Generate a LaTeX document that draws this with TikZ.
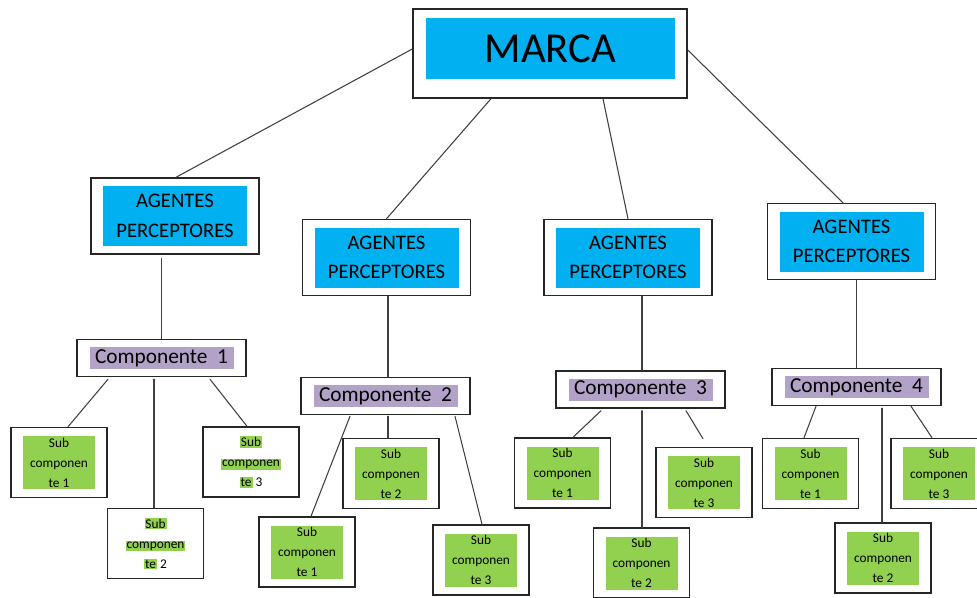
\documentclass[tikz,border=0pt]{standalone}
\usepackage{fontspec}
\setmainfont{Carlito}
\usepackage{tikz}
\usetikzlibrary{calc,positioning}
\definecolor{marcablue}{HTML}{00B0F0}
\definecolor{complilac}{HTML}{B3A2C7}
\definecolor{subgreen}{HTML}{92D050}
\definecolor{linegray}{HTML}{404040}
\newcommand{\hlsub}[1]{{\setlength{\fboxsep}{0.7pt}\colorbox{subgreen}{#1}}}
\newcommand{\agentBox}[2]{
    \node[agbox] (#1) at (#2) {};
    \node[agfill] (#1Txt) at (#2) {AGENTES\\PERCEPTORES};
}
\newcommand{\compBox}[3]{
    \node[compbox] (#1) at (#2) {};
    \node[compfill] (#1Txt) at (#2) {Componente\ \ #3};
}
\newcommand{\subBox}[3]{
    \node[subbox] (#1) at (#2) {};
    \node[subfill] (#1Txt) at (#2) {Sub\\componen\\te #3};
}
\newcommand{\subBoxHl}[3]{
    \node[subbox] (#1) at (#2) {};
    \node[subtext] (#1Txt) at (#2) {\hlsub{Sub}\\\hlsub{componen}\\\hlsub{te} #3};
}

\begin{document}
\begin{tikzpicture}[x=0.75pt,y=-0.75pt,line cap=round,line join=miter,
    outerbox/.style={draw=black!85,line width=1.1pt,fill=white,inner sep=0pt},
    marcabox/.style={outerbox,minimum width=205.5pt,minimum height=66.75pt},
    agbox/.style={outerbox,minimum width=126pt,minimum height=57pt},
    compbox/.style={outerbox,minimum width=126.75pt,minimum height=27.75pt},
    subbox/.style={outerbox,minimum width=72pt,minimum height=52.5pt},
    marcafill/.style={fill=marcablue,inner sep=0pt,minimum width=186.75pt,minimum height=45.75pt,font=\fontsize{32}{38}\selectfont},
    agfill/.style={fill=marcablue,inner sep=1pt,align=center,minimum width=108pt,minimum height=45pt,font=\fontsize{15.5}{22}\selectfont},
    compfill/.style={fill=complilac,inner sep=0pt,minimum width=108pt,minimum height=16.5pt,font=\fontsize{16}{19}\selectfont},
    subfill/.style={fill=subgreen,inner sep=0pt,align=center,minimum width=54pt,minimum height=39.75pt,font=\fontsize{10}{15}\selectfont},
    subtext/.style={inner sep=0pt,align=center,font=\fontsize{10}{15}\selectfont},
    link/.style={draw=linegray,line width=0.8pt}]

        \useasboundingbox (0,0) rectangle (977,597);
        \clip (0,0) rectangle (977,597);

        % --- Top ---
        \node[marcabox] (marca) at (550,53.5) {};
        \node[marcafill] (marcaTxt) at (550.5,48.5) {MARCA};

        % --- Agentes perceptores ---
        \agentBox{ag1}{175,216}
        \agentBox{ag2}{386.5,257.5}
        \agentBox{ag3}{628,257.5}
        \agentBox{ag4}{851.5,241.5}

        % --- Componentes ---
        \compBox{comp1}{161.5,358}{1}
        \compBox{comp2}{385.5,396}{2}
        \compBox{comp3}{640.5,389.5}{3}
        \compBox{comp4}{856.5,387}{4}

        % --- Subcomponentes ---
        \subBox{sub11}{59,462.5}{1}
        \subBoxHl{sub12}{155.5,543.5}{2}
        \subBoxHl{sub13}{251,462}{3}

        \subBox{sub21}{307,552}{1}
        \subBox{sub22}{391,473.5}{2}
        \subBox{sub23}{481,560}{3}

        \subBox{sub31}{562.5,473}{1}
        \subBox{sub32}{641.5,563}{2}
        \subBox{sub33}{704,482.5}{3}

        \subBox{sub41}{810.5,473.5}{1}
        \subBox{sub42}{883,558}{2}
        \subBox{sub43}{939,473.5}{3}

        % Marca to agentes
        \draw[link] ($(marca.west)+(0,-4.5)$) -- ($(ag1.north)+(1,0)$);
        \draw[link] ($(marca.south)+(-59,0)$) -- (ag2.north);
        \draw[link] ($(marca.south)+(53,0)$) -- (ag3.north);
        \draw[link] ($(marca.east)+(0,-3.5)$) -- ($(ag4.north)+(-8.5,0)$);

        % Agentes to componentes
        \draw[link] ($(comp1.north |- ag1.south)+(0,4)$) -- (comp1.north);
        \draw[link] ($(ag2.south)+(1.5,0)$) -- ($(comp2.north)+(2.5,0)$);
        \draw[link] ($(comp3.north |- ag3.south)+(1.5,0)$) -- ($(comp3.north)+(1.5,0)$);
        \draw[link] (comp4.north |- ag4.south) -- (comp4.north);

        % Componente 1
        \draw[link] ($(comp1.south)+(-53.5,2)$) -- ($(sub11.north)+(9,0)$);
        \draw[link] ($(comp1.south)+(-7.5,2)$) -- ($(sub12.north)+(-1.5,0)$);
        \draw[link] ($(comp1.south)+(48.5,2)$) -- ($(sub13.north)+(-4,0)$);

        % Componente 2
        \draw[link] ($(comp2.south)+(-35.5,1)$) -- ($(sub21.north)+(4,0)$);
        \draw[link] ($(comp2.south)+(2.5,1)$) -- ($(sub22.north)+(-3,0)$);
        \draw[link] ($(comp2.south)+(69.5,1)$) -- ($(sub23.north)+(1,0)$);

        % Componente 3
        \draw[link] ($(comp3.south)+(-39.5,2)$) -- ($(sub31.north)+(10.5,0)$);
        \draw[link] ($(comp3.south)+(1.5,2)$) -- ($(sub32.north)+(0.5,0)$);
        \coordinate (sub33top) at ($(sub33.north)+(-1,-8)$);
        \draw[link] ($(comp3.south)+(45.5,2)$) -- (sub33top);

        % Componente 4
        \draw[link] ($(comp4.south)+(-40.5,0)$) -- ($(sub41.north)+(-6.5,0)$);
        \draw[link] ($(comp4.south)+(25.5,2)$) -- ($(sub42.north)+(-1,0)$);
        \draw[link] ($(comp4.south)+(54.5,0)$) -- ($(sub43.north)+(-7,0)$);

    \end{tikzpicture}
\end{document}
